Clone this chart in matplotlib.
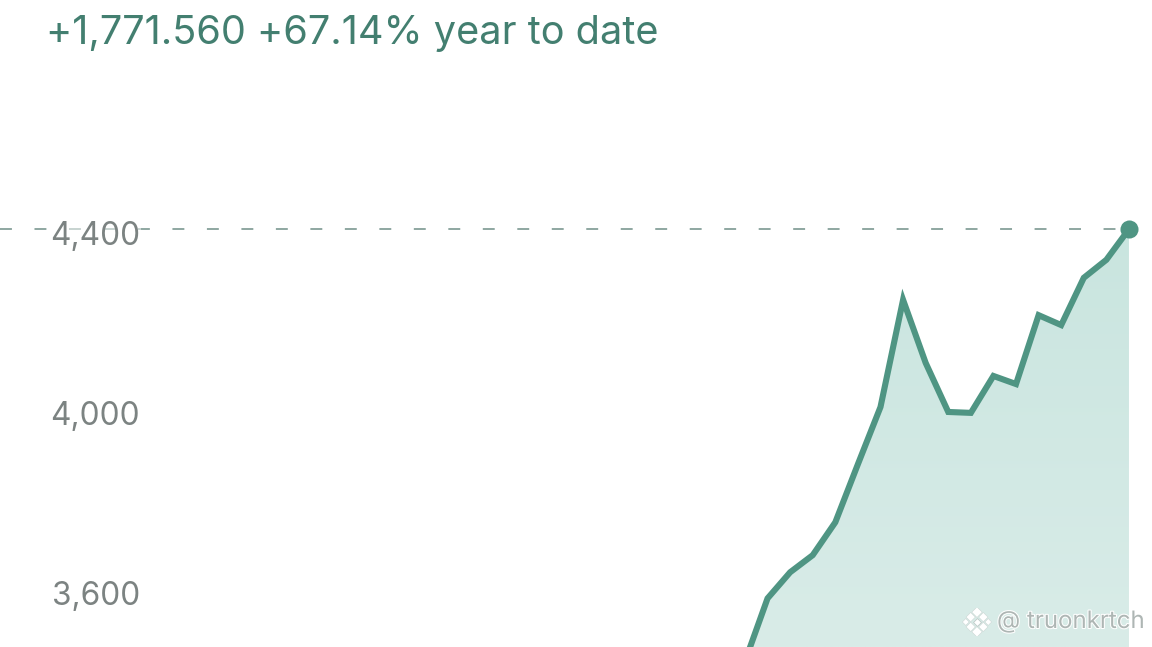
import matplotlib
matplotlib.use("Agg")
import matplotlib.pyplot as plt
import matplotlib.patheffects as pe
import matplotlib.transforms as mtrans
import numpy as np
from matplotlib.colors import LinearSegmentedColormap

plt.rcParams['font.family'] = ['Inter', 'DejaVu Sans']

values = [3444, 3584, 3642, 3680, 3753, 3882, 4009, 4247, 4107, 3998,
          3996, 4078, 4060, 4213, 4191, 4296, 4336, 4404]
ytick_values = [3600, 4000, 4400]
ytick_labels = ['3,600', '4,000', '4,400']
title = '+1,771.560 +67.14% year to date'
watermark = '@ truonkrtch'

LINE = '#4f9583'
W, H = 1152, 647
XMIN, XMAX = -32.98, 18.02
YMIN, YMAX = 3476, 4913

fig = plt.figure(figsize=(W / 100, H / 100), dpi=100)
ax = fig.add_axes([0, 0, 1, 1])
for s in ax.spines.values():
    s.set_visible(False)

x = np.arange(len(values))
y = np.array(values)

# gradient fill under the line, clipped to the area
cmap = LinearSegmentedColormap.from_list('area', ['#c9e5df', '#d9ece8'])
poly = ax.fill_between(x, y, YMIN, color='none', lw=0)
grad = ax.imshow(np.linspace(0, 1, 256).reshape(-1, 1), cmap=cmap, aspect='auto',
                 extent=[x[0], x[-1], YMIN, y.max()], origin='upper', zorder=1)
grad.set_clip_path(poly.get_paths()[0], transform=ax.transData)
ax.set_xlim(XMIN, XMAX)
ax.set_ylim(YMIN, YMAX)

# last value reference line, stops at the end marker
ax.plot([XMIN, x[-1]], [y[-1], y[-1]], color='#86a09a', lw=1.3,
        linestyle=(0, (6.6, 12.5)), zorder=2)
ax.plot(x, y, color=LINE, lw=4.4, solid_joinstyle='miter', zorder=3)
ax.plot(x[-1], y[-1], 'o', color=LINE, ms=13, mew=0, zorder=4)

ax.set_xticks([])
ax.set_yticks(ytick_values)
ax.set_yticklabels(ytick_labels)
ax.tick_params(axis='y', length=0, pad=-100.8, labelsize=22.8, labelcolor='#7c8382')
ax.yaxis.set_zorder(5)
ax.set_axisbelow(False)
shift = mtrans.ScaledTranslation(0, -2 / 100, fig.dpi_scale_trans)
for lab in ax.get_yticklabels():
    lab.set_transform(lab.get_transform() + shift)
    lab.set_bbox(dict(facecolor='white', edgecolor='none', alpha=0.5, pad=1))

fig.text(46 / W, 1 - 33 / H, title, color='#437f70', fontsize=28.6, va='center', ha='left')

# watermark
fig.text(997 / W, 1 - 622 / H, watermark, color='#aeb6b4', fontsize=17.3, va='center', ha='left',
         path_effects=[pe.withStroke(linewidth=1.5, foreground='#ffffff')], zorder=6)
ax_icon = fig.add_axes([962 / W, 1 - 636 / H, 30 / W, 28 / H])
ax_icon.axis('off')
ax_icon.set_xlim(-1, 1)
ax_icon.set_ylim(-1, 1)
ax_icon.scatter([0, 0, -0.75, 0.75, -0.42, 0.42, -0.42, 0.42],
                [0.7, -0.7, 0, 0, 0.35, 0.35, -0.35, -0.35],
                marker='D', s=[28, 28, 12, 12, 22, 22, 22, 22],
                color='white', edgecolors='#c5cfcd', linewidths=0.3)
ax_icon.scatter([0], [0], marker='D', s=16, color='white', edgecolors='#b9c4c2', linewidths=0.5)

fig.savefig('out.png', dpi=100)
